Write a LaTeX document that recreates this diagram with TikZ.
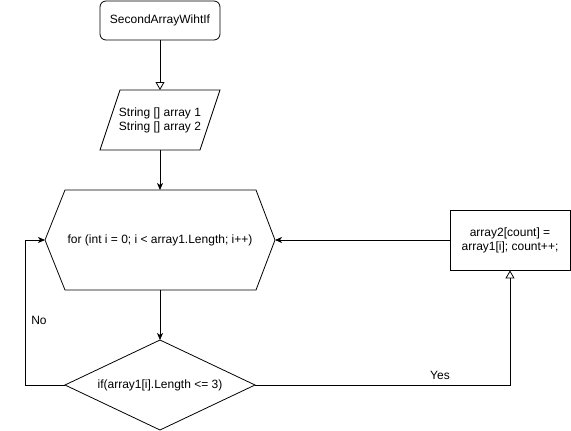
\documentclass[tikz,border=0pt]{standalone}
\usepackage{fontspec}
\setmainfont{Liberation Sans}
\usetikzlibrary{arrows.meta,shapes.geometric}
\begin{document}
\begin{tikzpicture}[x=1pt,y=-1pt,
  every node/.style={font=\fontsize{12}{14}\selectfont},
  line/.style={draw=black,line width=0.8pt},
  filled/.style={line,-{Stealth[length=7pt,width=6pt,inset=2pt]}},
  opentip/.style={line,-{Triangle[open,length=8pt,width=9pt]}},
  lbl/.style={inner sep=0pt,font=\fontsize{12}{14}\selectfont}]
\useasboundingbox (0,0) rectangle (571,431);
% start
\node[line,rounded corners=6pt,minimum width=120pt,minimum height=39pt] (start) at (160,20.5) {SecondArrayWihtIf};
% parallelogram
\path[line] (120,90) -- (220,90) -- (200,150) -- (100,150) -- cycle;
\node[align=center,inner sep=0pt] (inp) at (160,120) {String [] array 1\\String [] array 2};
\coordinate (inpT) at (160,90);
\coordinate (inpB) at (160,150);
% hexagon
\path[line] (45,240) -- (65,190) -- (256,190) -- (275,240) -- (256,290) -- (65,290) -- cycle;
\node[inner sep=0pt] (loop) at (160,240) {for (int i = 0; i < array1.Length; i++)};
\coordinate (loopT) at (160,190);
\coordinate (loopB) at (160,290);
\coordinate (loopL) at (45,240);
\coordinate (loopR) at (275,240);
% diamond
\path[line] (160,340) -- (255,385) -- (160,430) -- (65,385) -- cycle;
\node[inner sep=0pt] (cond) at (160,385) {if(array1[i].Length <= 3)};
\coordinate (condT) at (160,340);
\coordinate (condL) at (65,385);
\coordinate (condR) at (255,385);
% action
\node[line,minimum width=120pt,minimum height=60pt,align=center] (act) at (510,240) {array2[count] =\\array1[i]; count++;};
% connectors
\draw[opentip] (start.south) -- (inpT);
\draw[filled] (inpB) -- (loopT);
\draw[filled] (loopB) -- (condT);
\draw[filled] (condL) -- (25,385) -- (25,240) -- (loopL);
\draw[opentip] (condR) -- (510,385) -- (act.south);
\draw[filled] (act.west) -- (loopR);
\node[lbl] (no) at (39,320) {No};
\node[lbl] (yes) at (440,375) {Yes};
\end{tikzpicture}
\end{document}
